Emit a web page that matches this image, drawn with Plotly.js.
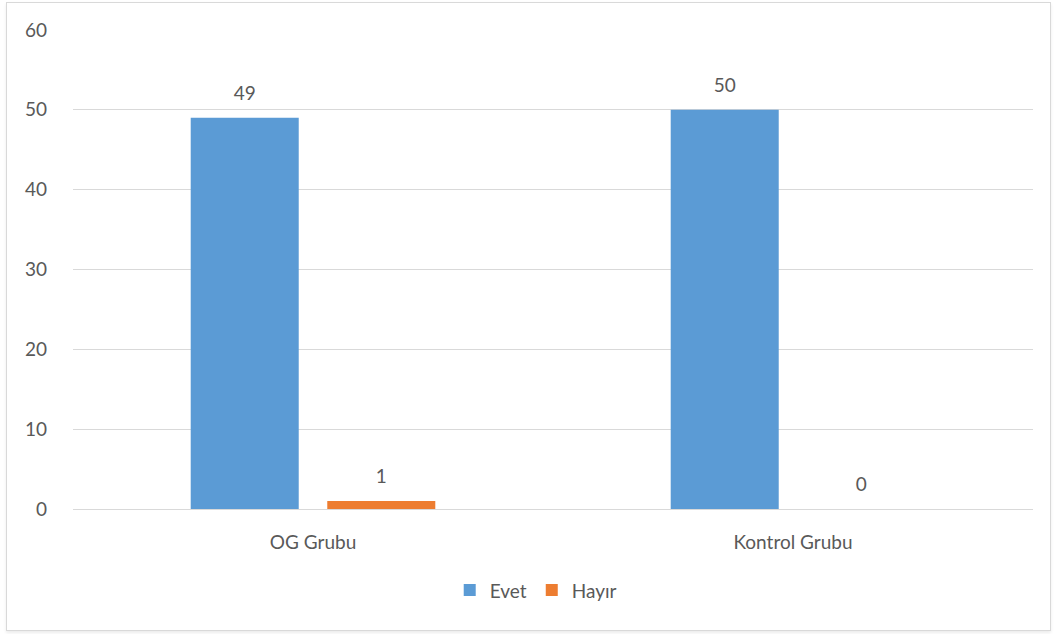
<!DOCTYPE html>
<html>
<head>
<meta charset="utf-8">
<script src="https://cdn.plot.ly/plotly-3.0.1.min.js"></script>
<style>
html,body{margin:0;padding:0;background:#fff;}
#wrap{position:relative;width:1057px;height:634px;}
#frame{position:absolute;left:6px;top:2px;width:1043px;height:627px;border:1px solid #d9d9d9;box-shadow:0 2px 3px rgba(0,0,0,0.08);pointer-events:none;}
#chart{position:absolute;left:0;top:0;width:1057px;height:634px;}
</style>
</head>
<body>
<div id="wrap"><div id="frame"></div><div id="chart"></div></div>
<script>
const categories = ["OG Grubu", "Kontrol Grubu"];
const evet = [49, 50];
const hayir = [1, 0];
const seriesNames = ["Evet", "Hayır"];
const yTicks = [0, 10, 20, 30, 40, 50, 60];

const font = {family: "Lato, 'Open Sans', sans-serif", size: 19, color: "#595959"};
const smallFont = {family: font.family, size: 10, color: font.color};
const lbl = v => "<span style='font-size:19px'>" + String(v) + "</span><br> ";

const traces = [
  {type: "bar", name: seriesNames[0], x: categories, y: evet, marker: {color: "#5B9BD5"},
   text: evet.map(lbl), textposition: "outside", textfont: smallFont, cliponaxis: false, hoverinfo: "none"},
  {type: "bar", name: seriesNames[1], x: categories, y: hayir, marker: {color: "#ED7D31"},
   text: hayir.map(lbl), textposition: "outside", textfont: smallFont, cliponaxis: false, hoverinfo: "none"}
];

const layout = {
  width: 1057, height: 634,
  margin: {l: 73, r: 24, t: 30, b: 125},
  paper_bgcolor: "rgba(0,0,0,0)", plot_bgcolor: "rgba(0,0,0,0)",
  font: font,
  barmode: "group", bargap: 0.431, bargroupgap: 0.209,
  xaxis: {showgrid: false, zeroline: false, showline: false, ticks: "", tickfont: font, ticklabelstandoff: 20},
  yaxis: {range: [0, 60], tickvals: yTicks, showgrid: true, gridcolor: "#d9d9d9", gridwidth: 1,
          zeroline: true, zerolinecolor: "#d9d9d9", zerolinewidth: 1, showline: false, ticks: "", tickfont: font, ticklabelstandoff: 25},
  showlegend: true,
  legend: {orientation: "h", x: 0.482, xanchor: "center", y: -0.13, yanchor: "top", font: font, itemwidth: 30, traceorder: "normal"}
};

Plotly.newPlot("chart", traces, layout, {staticPlot: true, displayModeBar: false});
</script>
</body>
</html>
